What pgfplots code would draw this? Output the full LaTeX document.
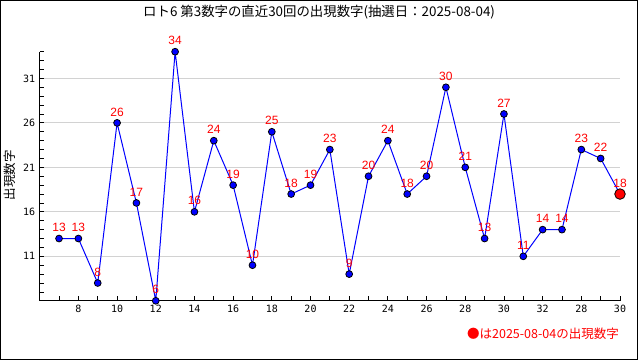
\documentclass[border=0pt]{standalone}
\usepackage{pgfplots}
\pgfplotsset{compat=1.18}
\usepackage{fontspec}
\newfontfamily\jp{Noto Sans CJK JP}
\newfontfamily\lab{Liberation Sans}
\newfontfamily\mono{DejaVu Sans Mono}
\begin{document}
\begin{tikzpicture}[x=1pt,y=1pt]
\useasboundingbox (0,0) rectangle (640,360);
\fill[white] (0,0) rectangle (640,360);
\draw[black, line width=1pt] (0.5,0.5) rectangle (637,359.5);
\node[font=\jp\fontsize{13.4}{13.4}\selectfont, anchor=west, inner sep=0pt] at (143,347.5) {ロト6 第3数字の直近30回の出現数字(抽選日：2025-08-04)};
\node[font=\jp\fontsize{12.5}{12.5}\selectfont, rotate=90, anchor=center] at (10,185) {出現数字};
\node[font=\jp\fontsize{12.5}{12.5}\selectfont, text=red, anchor=east, inner sep=0pt] at (619,26) {●は2025-08-04の出現数字};
\begin{axis}[
  at={(39.7pt,59.2pt)}, anchor=south west,
  scale only axis, width=580.3pt, height=249.1pt,
  xmin=6, xmax=36, ymin=6, ymax=34,
  axis lines*=left,
  axis line style={black, line width=0.8pt},
  clip=false,
  xtick={8,10,...,36},
  xticklabels={8,10,12,14,16,18,20,22,24,26,28,30,32,28,30},
  minor xtick={7,9,...,35},
  ytick={11,16,21,26,31},
  minor ytick={6,...,34},
  tick align=inside,
  major tick length=4.5pt, minor tick length=4.5pt,
  tick style={black, line width=0.8pt},
  ymajorgrids, grid style={gray!35, line width=0.8pt},
  /pgf/number format/assume math mode=true,
  ticklabel style={font=\mono\fontsize{10}{10}\selectfont},
  xticklabel style={yshift=-1pt},
  yticklabel style={xshift=-1pt},
]
\addplot[blue, line width=1pt, mark=*, mark size=3.4pt,
  mark options={fill=blue, draw=black, line width=0.8pt},
  nodes near coords,
  every node near coord/.style={anchor=center, yshift=11pt, text=red, inner sep=0pt, font=\lab\fontsize{12}{12}\selectfont}]
coordinates {
(7,13)(8,13)(9,8)(10,26)(11,17)(12,6)(13,34)(14,16)(15,24)(16,19)
(17,10)(18,25)(19,18)(20,19)(21,23)(22,9)(23,20)(24,24)(25,18)(26,20)
(27,30)(28,21)(29,13)(30,27)(31,11)(32,14)(33,14)(34,23)(35,22)(36,18)
};
\addplot[only marks, mark=*, mark size=5.3pt, mark options={fill=red, draw=black, line width=0.8pt}]
coordinates {(36,18)};
\end{axis}
\end{tikzpicture}
\end{document}
